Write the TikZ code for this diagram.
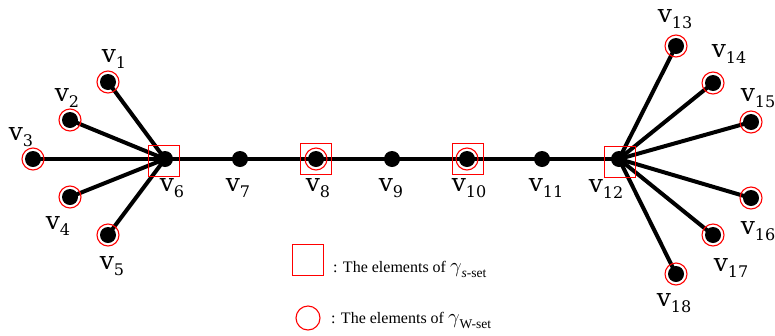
\documentclass[tikz,border=0pt]{standalone}
\usepackage{fontspec}
\usepackage{graphicx}
\setmainfont{Liberation Serif}
\newfontfamily\lblfont{DejaVu Serif}
\newcommand\vlab[1]{{\lblfont\fontsize{25}{26}\selectfont v\raisebox{-6pt}{\fontsize{16}{16}\selectfont #1}}}
\newcommand\gsub[1]{{\fontsize{22}{22}\selectfont$\gamma$}\raisebox{-5pt}{\fontsize{13.5}{13.5}\selectfont #1}}
\begin{document}
\begin{tikzpicture}[x=1pt,y=-1pt,
  vtx/.style={circle,fill=black,inner sep=0pt,minimum size=16pt},
  edge/.style={line width=4pt,black},
  wring/.style={draw=red,line width=1.1pt,circle,inner sep=0pt,minimum size=22pt},
  sbox/.style={draw=red,line width=1.1pt,rectangle,inner sep=0pt,minimum size=31pt},
  lbl/.style={inner sep=0pt},
  legtext/.style={anchor=west,inner sep=0pt,font=\fontsize{16}{17}\selectfont}]
\useasboundingbox (0,0) rectangle (775,335);
% vertices
\coordinate (v1) at (108,82);
\coordinate (v2) at (70,120);
\coordinate (v3) at (33,159);
\coordinate (v4) at (70,197);
\coordinate (v5) at (108,235);
\coordinate (v6) at (165,159);
\coordinate (v7) at (240,159);
\coordinate (v8) at (316,159);
\coordinate (v9) at (392,159);
\coordinate (v10) at (467,159);
\coordinate (v11) at (542,159);
\coordinate (v12) at (619,159);
\coordinate (v13) at (676,46);
\coordinate (v14) at (713,83);
\coordinate (v15) at (751,122);
\coordinate (v16) at (751,198);
\coordinate (v17) at (713,235);
\coordinate (v18) at (676,274);
% edges
\foreach \a in {1,2,3,4,5} \draw[edge] (v\a) -- (v6);
\draw[edge] (v6) -- (v7) -- (v8) -- (v9) -- (v10) -- (v11) -- (v12);
\foreach \a in {13,14,15,16,17,18} \draw[edge] (v12) -- (v\a);
% dots
\foreach \a in {1,...,18} \node[vtx] (n\a) at (v\a) {};
% w-set rings
\foreach \a in {1,2,3,4,5,8,10,13,14,15,16,17,18} \node[wring] (r\a) at (v\a) {};
% s-set squares
\node[sbox] (s6) at (164,161) {};
\node[sbox] (s8) at (316,159) {};
\node[sbox] (s10) at (468,159) {};
\node[sbox] (s12) at (620,162) {};
% labels
\node[lbl] (l1) at (114,59) {\vlab{1}};
\node[lbl] (l2) at (67,98) {\vlab{2}};
\node[lbl] (l3) at (21,137) {\vlab{3}};
\node[lbl] (l4) at (58,226) {\vlab{4}};
\node[lbl] (l5) at (112,266) {\vlab{5}};
\node[lbl] (l6) at (172,188) {\vlab{6}};
\node[lbl] (l7) at (238,188) {\vlab{7}};
\node[lbl] (l8) at (318,188) {\vlab{8}};
\node[lbl] (l9) at (391,188) {\vlab{9}};
\node[lbl] (l10) at (469,188) {\vlab{10}};
\node[lbl] (l11) at (546,188) {\vlab{11}};
\node[lbl] (l12) at (606,189) {\vlab{12}};
\node[lbl] (l13) at (675,19) {\vlab{13}};
\node[lbl] (l14) at (729,54) {\vlab{14}};
\node[lbl] (l15) at (758,98) {\vlab{15}};
\node[lbl] (l16) at (758,231) {\vlab{16}};
\node[lbl] (l17) at (731,268) {\vlab{17}};
\node[lbl] (l18) at (674,303) {\vlab{18}};
% legend
\node[sbox] (legs) at (308,260) {};
\node[legtext] (legst) at (333,269) {: The elements of \gsub{\textit{s}-set}};
\node[draw=red,line width=1.1pt,circle,inner sep=0pt,minimum size=24pt] (legw) at (308,318) {};
\node[legtext] (legwt) at (331,320) {: The elements of \gsub{W-set}};
\end{tikzpicture}
\end{document}
